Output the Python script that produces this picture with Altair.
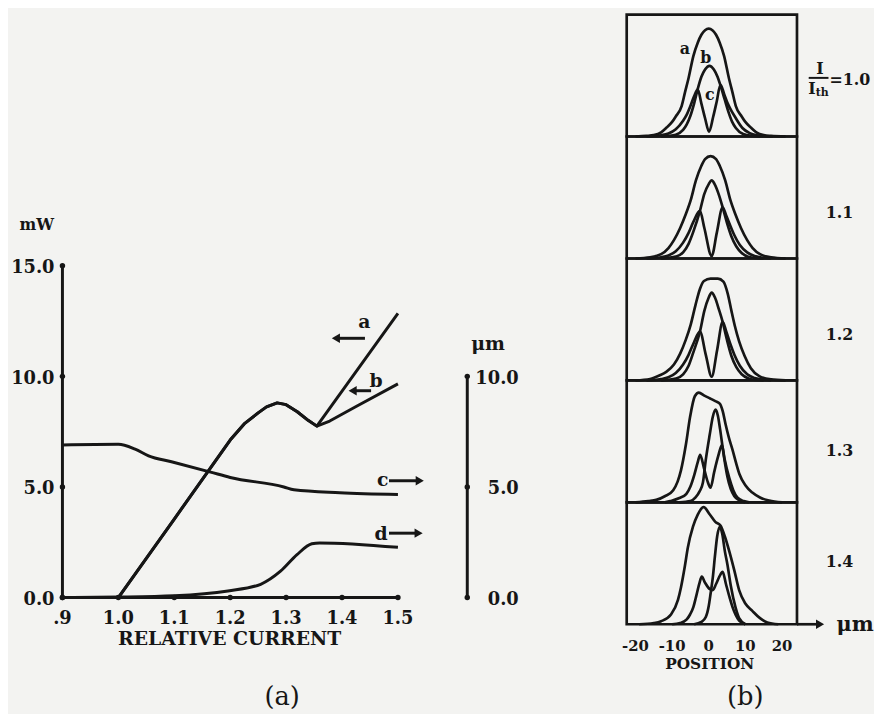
import altair as alt
import pandas as pd

# ---------------- (a) output power (mW) and spot sizes (um) vs relative current ----------------
CUR_A = [0.9, 1.0, 1.1, 1.2, 1.225, 1.25, 1.265, 1.284, 1.30, 1.32, 1.34, 1.355, 1.5]
PWR_A = [0.0, 0.0, 3.55, 7.12, 7.85, 8.35, 8.62, 8.8, 8.72, 8.4, 8.0, 7.75, 12.85]
CUR_B = [0.9, 1.0, 1.1, 1.2, 1.225, 1.25, 1.265, 1.284, 1.30, 1.32, 1.34, 1.355, 1.378, 1.426, 1.5]
PWR_B = [0.0, 0.0, 3.55, 7.12, 7.85, 8.35, 8.62, 8.8, 8.72, 8.4, 8.0, 7.75, 7.98, 8.65, 9.66]
CUR_C = [0.9, 1.0, 1.03, 1.054, 1.095, 1.165, 1.2, 1.296, 1.314, 1.396, 1.5]
UM_C = [6.9, 6.93, 6.71, 6.41, 6.14, 5.67, 5.43, 5.0, 4.87, 4.74, 4.66]
CUR_D = [0.9, 1.0, 1.1, 1.196, 1.2545, 1.29, 1.3195, 1.346, 1.36, 1.5]
UM_D = [0.0, 0.02, 0.08, 0.3, 0.6, 1.19, 1.94, 2.43, 2.47, 2.27]

X_TICKS = [0.9, 1.0, 1.1, 1.2, 1.3, 1.4, 1.5]
X_TICK_LABELS = [".9", "1.0", "1.1", "1.2", "1.3", "1.4", "1.5"]
MW_TICKS = [0, 5, 10, 15]
MW_LABELS = ["0.0", "5.0", "10.0", "15.0"]
UM_TICKS = [0, 5, 10]
UM_LABELS = ["0.0", "5.0", "10.0"]
CURVE_LETTERS = ["a", "b", "c", "d"]

# ---------------- (b) near-field profiles (position um, relative height) ----------------
PANEL_LABELS = ["1.0", "1.1", "1.2", "1.3", "1.4"]

A10 = [(-20, 0), (-17, 0.005), (-15, 0.012), (-13, 0.035), (-11.5, 0.074), (-10, 0.12), (-9, 0.165),
       (-7.4, 0.25), (-6.5, 0.36), (-5.5, 0.48), (-4.2, 0.66), (-3, 0.77), (-2, 0.835), (-1, 0.872),
       (0, 0.885), (1, 0.872), (2, 0.835), (3, 0.77), (4.2, 0.66), (5.5, 0.48), (6.5, 0.36), (7.4, 0.25),
       (9, 0.165), (10, 0.12), (11.5, 0.074), (13, 0.035), (15, 0.012), (17, 0.005), (21, 0)]
B10 = [(-13, 0), (-11, 0.004), (-9, 0.015), (-7, 0.055), (-6, 0.1), (-5, 0.17), (-4, 0.27), (-3, 0.39),
       (-2, 0.49), (-1, 0.55), (0.2, 0.58), (1.4, 0.55), (2.4, 0.49), (3.2, 0.42), (4.4, 0.3), (5.4, 0.2),
       (6.4, 0.12), (7.4, 0.07), (9.4, 0.02), (12, 0.004), (14, 0)]
C10 = [(-17, 0), (-15, 0.003), (-13, 0.01), (-11, 0.025), (-9, 0.06), (-7, 0.13), (-6, 0.18), (-5, 0.25),
       (-4, 0.33), (-3, 0.385), (-2, 0.27), (-1, 0.15), (0.1, 0.04), (1.2, 0.16), (2.2, 0.29), (3.2, 0.425),
       (4.2, 0.35), (5.2, 0.27), (6.2, 0.21), (7.2, 0.16), (9.2, 0.07), (11.2, 0.028), (13.2, 0.01),
       (15.2, 0.003), (17.5, 0)]

A11 = [(-20, 0), (-16, 0.01), (-13, 0.035), (-11, 0.085), (-9.5, 0.15), (-7.8, 0.25), (-6.3, 0.36),
       (-4.9, 0.48), (-3.5, 0.64), (-2, 0.76), (-1, 0.815), (0.5, 0.84), (2, 0.815), (3, 0.76), (4.5, 0.64),
       (5.9, 0.48), (7.3, 0.36), (8.8, 0.25), (10.5, 0.15), (12, 0.085), (14, 0.035), (17, 0.01), (21, 0)]
B11 = [(-13, 0), (-11, 0.005), (-9, 0.015), (-7, 0.05), (-5.5, 0.12), (-4.2, 0.22), (-2.4, 0.39),
       (-1.2, 0.53), (0, 0.61), (0.8, 0.64), (1.6, 0.61), (2.8, 0.52), (3.8, 0.42), (5, 0.29), (6.2, 0.18),
       (7.5, 0.1), (9, 0.045), (11, 0.012), (13, 0.003), (15, 0)]
C11 = [(-17, 0), (-15, 0.003), (-13, 0.01), (-11, 0.025), (-9, 0.06), (-7, 0.13), (-5.5, 0.21), (-4.2, 0.3),
       (-2.4, 0.39), (-1.2, 0.25), (0.8, 0.02), (2.2, 0.21), (3.8, 0.42), (4.8, 0.35), (6, 0.26), (7, 0.19),
       (8.5, 0.11), (10.5, 0.05), (12.5, 0.02), (15, 0.005), (17, 0)]

A12 = [(-20, 0), (-16, 0.012), (-13.5, 0.04), (-11.6, 0.07), (-9.5, 0.13), (-7.8, 0.22), (-6.3, 0.33),
       (-4.9, 0.46), (-3.6, 0.62), (-2.4, 0.75), (-1.3, 0.815), (0.5, 0.835), (2.5, 0.835), (4, 0.81),
       (5.2, 0.71), (6.2, 0.57), (7.1, 0.45), (8.3, 0.32), (9.8, 0.2), (11.5, 0.1), (13.8, 0.035),
       (17, 0.008), (21, 0)]
B12 = [(-13, 0), (-11, 0.005), (-9, 0.015), (-7, 0.05), (-5.5, 0.12), (-4.2, 0.23), (-2.4, 0.40),
       (-1.2, 0.57), (0, 0.68), (0.8, 0.72), (1.7, 0.68), (2.8, 0.58), (3.8, 0.48), (5, 0.33), (6.2, 0.2),
       (7.5, 0.11), (9, 0.05), (11, 0.014), (13, 0.003), (15, 0)]
C12 = [(-17, 0), (-15, 0.003), (-13, 0.01), (-11, 0.025), (-9, 0.06), (-7, 0.13), (-5.5, 0.21), (-4.2, 0.3),
       (-2.4, 0.40), (-0.8, 0.21), (0.8, 0.03), (2.3, 0.25), (3.8, 0.48), (4.8, 0.4), (6, 0.29), (7, 0.21),
       (8.5, 0.12), (10.5, 0.05), (12.5, 0.02), (15, 0.005), (17, 0)]

A13 = [(-20, 0), (-16.5, 0.01), (-14.3, 0.02), (-12, 0.05), (-9.7, 0.10), (-8.5, 0.17), (-7.6, 0.26),
       (-6.2, 0.48), (-5.1, 0.70), (-3.8, 0.87), (-2.7, 0.90), (-1.2, 0.875), (0.5, 0.85), (1.8, 0.83),
       (3, 0.81), (3.8, 0.75), (4.6, 0.64), (5.5, 0.53), (6.5, 0.43), (7.5, 0.32), (8.4, 0.23), (10, 0.14),
       (11.9, 0.08), (14, 0.04), (16.5, 0.015), (20, 0)]
B13 = [(-8, 0), (-5, 0.01), (-3.6, 0.04), (-2.5, 0.09), (-1.6, 0.16), (-0.8, 0.35), (0.3, 0.56), (1.1, 0.70),
       (1.9, 0.76), (2.5, 0.71), (3.1, 0.60), (3.8, 0.45), (4.5, 0.31), (5.1, 0.21), (6, 0.11), (7, 0.05),
       (8.5, 0.015), (10, 0)]
C13 = [(-12, 0), (-10.5, 0.01), (-8, 0.035), (-6.1, 0.07), (-5, 0.13), (-3.9, 0.23), (-3, 0.33),
       (-2.35, 0.39), (-1.3, 0.28), (-0.3, 0.17), (0.5, 0.12), (1.5, 0.25), (2.6, 0.38), (3.6, 0.47),
       (4.3, 0.36), (5.6, 0.2), (6.7, 0.1), (7.8, 0.04), (9.5, 0.01), (11, 0)]

A14 = [(-19, 0), (-15, 0.01), (-13, 0.025), (-10.3, 0.08), (-8.4, 0.2), (-7.6, 0.30), (-6.5, 0.48),
       (-5.7, 0.63), (-4.3, 0.80), (-3, 0.9), (-1.4, 0.96), (0.3, 0.9), (1.8, 0.84), (3.2, 0.81), (4.4, 0.72),
       (5.6, 0.60), (7, 0.44), (8.3, 0.28), (10, 0.17), (11.9, 0.11), (14, 0.05), (16, 0.015), (19, 0)]
B14 = [(-4, 0), (-2, 0.02), (-0.8, 0.06), (0, 0.15), (0.5, 0.25), (1.1, 0.38), (1.7, 0.56), (2.3, 0.72),
       (3, 0.80), (3.7, 0.74), (4.4, 0.6), (5.1, 0.49), (6, 0.32), (7.3, 0.14), (8.3, 0.05), (10, 0)]
C14 = [(-10, 0), (-7.8, 0.01), (-6, 0.04), (-5.1, 0.08), (-4.2, 0.14), (-3.5, 0.22), (-2.6, 0.33),
       (-1.9, 0.39), (-1, 0.34), (0.2, 0.29), (1.1, 0.28), (2, 0.33), (2.9, 0.39), (3.8, 0.43), (4.7, 0.33),
       (5.7, 0.22), (6.5, 0.14), (7.3, 0.08), (8.3, 0.03), (10, 0)]

POS_TICKS = [-20, -10, 0, 10, 20]
POS_TICK_LABELS = ["-20", "-10", "0", "10", "20"]

# ---------------- layout / style ----------------
W, H = 874, 700
SERIF = "DejaVu Serif"
INK = "#161616"
BG = "#f3f3f1"
LX_DOM = [0.80265, 2.3496]
LY_DOM = [-4.832, 26.488]
RX_DOM = [-191.35, 44.86]
RY_DOM = [-0.6575, 5.0244]
UM_AXIS_X = 1.624
BOX_X = (-22.4, 24.1)


def sx(field, dom):
    return alt.X(field, type="quantitative", scale=alt.Scale(domain=dom, nice=False, zero=False), axis=None)


def sy(field, dom):
    return alt.Y(field, type="quantitative", scale=alt.Scale(domain=dom, nice=False, zero=False), axis=None)


def L(df):
    return alt.Chart(df)


def texts(rows, dom_x, dom_y, size, align="center", weight="bold", font=SERIF):
    df = pd.DataFrame(rows, columns=["x", "y", "t"])
    return alt.Chart(df).mark_text(font=font, fontSize=size, fontWeight=weight, color=INK,
                                   align=align, baseline="middle").encode(
        x=sx("x", dom_x), y=sy("y", dom_y), text="t:N")


layers = []

# ---- (a) curves ----
lin = pd.concat([
    pd.DataFrame({"s": "a", "x": CUR_A, "y": PWR_A}),
    pd.DataFrame({"s": "b", "x": CUR_B, "y": PWR_B}),
])
smooth = pd.concat([
    pd.DataFrame({"s": "c", "x": CUR_C, "y": UM_C}),
    pd.DataFrame({"s": "d", "x": CUR_D, "y": UM_D}),
])
layers.append(L(lin).mark_line(color=INK, strokeWidth=3, strokeJoin="round").encode(
    x=sx("x", LX_DOM), y=sy("y", LY_DOM), detail="s:N"))
layers.append(L(smooth).mark_line(color=INK, strokeWidth=3, interpolate="monotone").encode(
    x=sx("x", LX_DOM), y=sy("y", LY_DOM), detail="s:N"))

# ---- (a) axes ----
axes = pd.DataFrame({
    "x": [X_TICKS[0], X_TICKS[0], UM_AXIS_X],
    "x2": [X_TICKS[-1], X_TICKS[0], UM_AXIS_X],
    "y": [0, MW_TICKS[0], UM_TICKS[0]],
    "y2": [0, MW_TICKS[-1], UM_TICKS[-1]],
})
layers.append(L(axes).mark_rule(color=INK, strokeWidth=3).encode(
    x=sx("x", LX_DOM), x2="x2", y=sy("y", LY_DOM), y2="y2"))
dots = pd.concat([
    pd.DataFrame({"x": X_TICKS, "y": [0] * len(X_TICKS)}),
    pd.DataFrame({"x": [X_TICKS[0]] * len(MW_TICKS), "y": MW_TICKS}),
    pd.DataFrame({"x": [UM_AXIS_X] * len(UM_TICKS), "y": UM_TICKS}),
])
layers.append(L(dots).mark_circle(color=INK, size=30, opacity=1).encode(
    x=sx("x", LX_DOM), y=sy("y", LY_DOM)))

layers.append(texts([(x, -0.98, t) for x, t in zip(X_TICKS, X_TICK_LABELS)], LX_DOM, LY_DOM, 18))
layers.append(texts([(0.8858, v - 0.1, t) for v, t in zip(MW_TICKS, MW_LABELS)], LX_DOM, LY_DOM, 18, align="right"))
layers.append(texts([(1.716, v - 0.1, t) for v, t in zip(UM_TICKS, UM_LABELS)], LX_DOM, LY_DOM, 18, align="right"))
layers.append(texts([(1.199, -1.88, "RELATIVE CURRENT")], LX_DOM, LY_DOM, 19))
layers.append(texts([(0.854, 16.85, "mW")], LX_DOM, LY_DOM, 16))
layers.append(texts([(1.661, 11.45, "μm")], LX_DOM, LY_DOM, 19))
layers.append(texts([(1.293, -4.5, "(a)")], LX_DOM, LY_DOM, 26, weight="normal"))

# curve letters and arrows
letter_pos = [(1.440, 12.45), (1.461, 9.8), (1.473, 5.3), (1.470, 2.85)]
layers.append(texts([(p[0], p[1], t) for p, t in zip(letter_pos, CURVE_LETTERS)], LX_DOM, LY_DOM, 19))
arrows = pd.DataFrame({
    "x": [1.441, 1.452, 1.484, 1.484],
    "x2": [1.392, 1.421, 1.536, 1.534],
    "hx": [1.389, 1.419, 1.539, 1.537],
    "y": [11.72, 9.35, 5.28, 2.91],
    "shape": ["triangle-left", "triangle-left", "triangle-right", "triangle-right"],
})
layers.append(L(arrows).mark_rule(color=INK, strokeWidth=3).encode(
    x=sx("x", LX_DOM), x2="x2", y=sy("y", LY_DOM)))
layers.append(L(arrows).mark_point(filled=True, color=INK, size=90, opacity=1).encode(
    x=sx("hx", LX_DOM), y=sy("y", LY_DOM),
    shape=alt.Shape("shape:N", scale=None)))

# ---- (b) panels ----
profiles = {
    "1.0": {"a": A10, "b": B10, "c": C10},
    "1.1": {"a": A11, "b": B11, "c": C11},
    "1.2": {"a": A12, "b": B12, "c": C12},
    "1.3": {"a": A13, "b": B13, "c": C13},
    "1.4": {"a": A14, "b": B14, "c": C14},
}
rows = []
for i, lab in enumerate(PANEL_LABELS):
    k = len(PANEL_LABELS) - 1 - i
    for cname, pts in profiles[lab].items():
        for x, h in pts:
            rows.append({"panel": lab, "k": k, "curve": lab + cname, "x": x, "h": h})
prof = pd.DataFrame(rows)
layers.append(L(prof).transform_calculate(row="datum.k + datum.h").mark_line(
    color=INK, strokeWidth=2.7, interpolate="monotone", strokeJoin="round").encode(
    x=sx("x", RX_DOM), y=sy("row", RY_DOM), detail="curve:N"))

boxes = pd.DataFrame({"k": list(range(len(PANEL_LABELS))), "x": BOX_X[0], "x2": BOX_X[1]})
layers.append(L(boxes).transform_calculate(top="datum.k + 1").mark_rect(
    fillOpacity=0, stroke=INK, strokeWidth=2.7).encode(
    x=sx("x", RX_DOM), x2="x2", y=sy("k", RY_DOM), y2="top:Q"))

barrow = pd.DataFrame({"x": [BOX_X[1]], "x2": [30.0], "hx": [30.4], "y": [0]})
layers.append(L(barrow).mark_rule(color=INK, strokeWidth=2.7).encode(
    x=sx("x", RX_DOM), x2="x2", y=sy("y", RY_DOM)))
layers.append(L(barrow).mark_point(filled=True, color=INK, size=90, opacity=1, shape="triangle-right").encode(
    x=sx("hx", RX_DOM), y=sy("y", RY_DOM)))

layers.append(texts([(x, -0.175, t) for x, t in zip(POS_TICKS, POS_TICK_LABELS)], RX_DOM, RY_DOM, 15))
layers.append(texts([(0.27, -0.33, "POSITION")], RX_DOM, RY_DOM, 15.5))
layers.append(texts([(10.0, -0.6, "(b)")], RX_DOM, RY_DOM, 26, weight="normal"))
layers.append(texts([(34.9, -0.01, "μm")], RX_DOM, RY_DOM, 21, align="left"))

label_rows = [3.37, 2.37, 1.42, 0.51]
layers.append(texts([(35.7, r, t) for r, t in zip(label_rows, PANEL_LABELS[1:])], RX_DOM, RY_DOM, 16))
layers.append(texts([(33.0, 4.465, "=" + PANEL_LABELS[0])], RX_DOM, RY_DOM, 16, align="left"))
layers.append(texts([(30.4, 4.55, "I"), (28.2, 4.39, "I")], RX_DOM, RY_DOM, 16))
layers.append(texts([(31.0, 4.36, "th")], RX_DOM, RY_DOM, 11))
frac = pd.DataFrame({"x": [27.3], "x2": [32.7], "y": [4.481]})
layers.append(L(frac).mark_rule(color=INK, strokeWidth=2).encode(
    x=sx("x", RX_DOM), x2="x2", y=sy("y", RY_DOM)))
layers.append(texts([(-6.5, 4.72, "a"), (-0.8, 4.64, "b"), (0.3, 4.34, "c")], RX_DOM, RY_DOM, 16))

chart = alt.layer(*layers).resolve_scale(x="independent", y="independent").properties(
    width=W, height=H, padding=0, background=BG).configure_view(stroke=None)

chart.save("out.html", embed_options={"renderer": "svg", "actions": False})
